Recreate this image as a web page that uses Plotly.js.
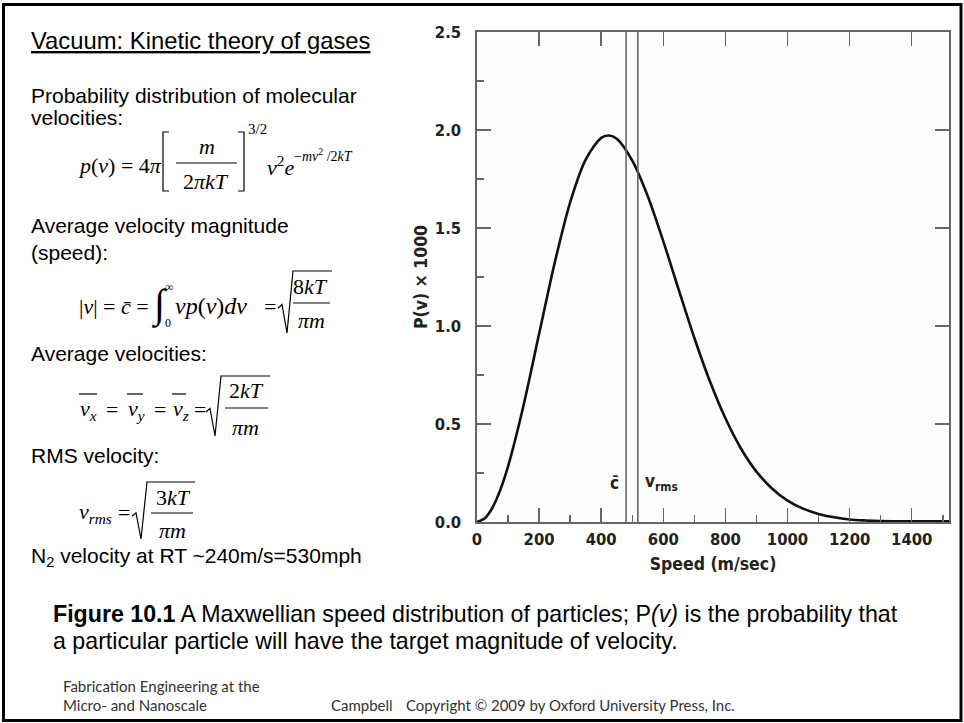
<!DOCTYPE html>
<html><head><meta charset="utf-8">
<script src="https://cdn.plot.ly/plotly-3.0.1.min.js"></script>
<style>html,body{margin:0;padding:0;background:#fff;}#chart{width:964px;height:723px;}</style>
</head><body><div id="chart"></div>
<script>
// ---- data ----
const speed = [0,25,50,75,100,150,200,250,300,350,400,425,450,500,550,600,650,700,750,800,850,900,950,1000,1050,1100,1150,1200,1250,1300,1350,1400,1450,1500,1520];
const probability = [0,0.019,0.074,0.164,0.284,0.596,0.960,1.321,1.631,1.849,1.960,1.972,1.955,1.844,1.662,1.432,1.183,0.939,0.718,0.529,0.375,0.257,0.171,0.109,0.068,0.041,0.024,0.013,0.008,0.005,0.004,0.003,0.003,0.003,0.003];
const meanSpeed = 480;
const rmsSpeed = 518;
const markerLevel = 0.2;
const xTickVals = [0,200,400,600,800,1000,1200,1400];
const xMinorTicks = [100,300,500,700,900,1100,1300,1500];
const xTopTicks = [200,400,600,800,1000,1200,1400];
const yTickVals = [0,0.5,1,1.5,2,2.5];
const yTickText = ['0.0','0.5','1.0','1.5','2.0','2.5'];
const yMinorTicks = [0.25,0.75,1.25,1.75,2.25];
const yRightTicks = [0.5,1,1.5,2];

// ---- page geometry helpers ----
const W = 964, H = 723;
const PX = x => x / W, PY = y => 1 - y / H;
const SANS = 'Liberation Sans, Arial, sans-serif';
const SERIF = 'Liberation Serif, Times New Roman, serif';
const NARROW = 'DejaVu Sans Condensed, Liberation Sans Narrow, Arial Narrow, sans-serif';
const FOOT = 'Lato, Open Sans, sans-serif';

function T(text, x, y, size, family, anchor, color) {
  return {text: text, xref: 'paper', yref: 'paper', x: PX(x), y: PY(y),
    xanchor: anchor || 'left', yanchor: 'middle', showarrow: false, borderpad: 0,
    font: {family: family, size: size, color: color || '#000'}};
}
function L(x0, y0, x1, y1, w) {
  return {type: 'line', xref: 'paper', yref: 'paper', x0: PX(x0), y0: PY(y0), x1: PX(x1), y1: PY(y1),
    line: {color: '#000', width: w || 1.2}};
}
function P(pts, w) {
  const d = pts.map((p, i) => (i ? 'L' : 'M') + PX(p[0]).toFixed(5) + ',' + PY(p[1]).toFixed(5)).join(' ');
  return {type: 'path', xref: 'paper', yref: 'paper', path: d, line: {color: '#000', width: w || 1.2}};
}
function radical(xl, yt, yb, xr) {
  const h = yb - yt;
  return P([[xl, yt + 0.6 * h], [xl + 4, yt + 0.54 * h], [xl + 9, yb], [xl + 15, yt], [xr, yt]], 1.2);
}

const annotations = [
  T('<u>Vacuum: Kinetic theory of gases</u>', 30, 40, 23.8, SANS),
  T('Probability distribution of molecular', 30, 96, 21, SANS),
  T('velocities:', 30, 118, 21, SANS),
  // p(v) formula
  T('<i>p</i>(<i>v</i>) = 4<i>π</i>', 77, 166, 22, SERIF),
  T('<i>m</i>', 207, 147, 22, SERIF, 'center'),
  T('2<i>πkT</i>', 206, 181, 22, SERIF, 'center'),
  T('3/2', 247, 129, 15, SERIF),
  T('<i>v</i><sup>2</sup><i>e</i>', 266, 166, 22, SERIF),
  T('−<i>mv</i><sup>2</sup> /2<i>kT</i>', 293, 155, 14, SERIF),
  T('Average velocity magnitude', 30, 225, 21, SANS),
  T('(speed):', 30, 252, 21, SANS),
  // mean speed formula
  T('|<i>v</i>| = <i>c̄</i> =', 78, 306, 22, SERIF),
  T('∫', 150, 304, 40, SERIF),
  T('∞', 164, 287, 12, SERIF),
  T('0', 164, 323, 12, SERIF),
  T('<i>vp</i>(<i>v</i>)<i>dv</i>', 174, 306, 24, SERIF),
  T('=', 263, 306, 22, SERIF),
  T('8<i>kT</i>', 310, 287, 22, SERIF, 'center'),
  T('<i>πm</i>', 311, 320, 22, SERIF, 'center'),
  T('Average velocities:', 30, 353, 21, SANS),
  // component averages
  T('<i>v</i><sub><i>x</i></sub>', 79, 410, 22, SERIF),
  T('=', 105, 409, 22, SERIF),
  T('<i>v</i><sub><i>y</i></sub>', 127, 410, 22, SERIF),
  T('=', 153, 409, 22, SERIF),
  T('<i>v</i><sub><i>z</i></sub>', 172, 410, 22, SERIF),
  T('=', 193, 409, 22, SERIF),
  T('2<i>kT</i>', 247, 390, 22, SERIF, 'center'),
  T('<i>πm</i>', 246, 427, 22, SERIF, 'center'),
  T('RMS velocity:', 30, 455, 21, SANS),
  // rms
  T('<i>v</i><sub><i>rms</i></sub>', 78, 513, 22, SERIF),
  T('=', 117, 512, 22, SERIF),
  T('3<i>kT</i>', 173, 497, 22, SERIF, 'center'),
  T('<i>πm</i>', 172, 530, 22, SERIF, 'center'),
  T('N<sub>2</sub> velocity at RT ~240m/s=530mph', 30, 557, 21, SANS),
  // caption & footer
  T('<b>Figure 10.1</b> A Maxwellian speed distribution of particles; P<i>(v)</i> is the probability that', 52, 614, 23.2, SANS),
  T('a particular particle will have the target magnitude of velocity.', 52, 641, 23.2, SANS),
  T('Fabrication Engineering at the', 62, 686, 15, FOOT, 'left', '#333'),
  T('Micro- and Nanoscale', 62, 705, 15, FOOT, 'left', '#333'),
  T('Campbell', 330, 705, 15, FOOT, 'left', '#333'),
  T('Copyright © 2009 by Oxford University Press, Inc.', 405, 705, 15, FOOT, 'left', '#333'),
  // chart markers
  {text: 'c̄', xref: 'x', yref: 'y', x: meanSpeed, y: markerLevel, xanchor: 'right', yanchor: 'middle',
   xshift: -5, showarrow: false, font: {family: NARROW, size: 17, color: '#222', weight: 'bold'}},
  {text: 'v<sub>rms</sub>', xref: 'x', yref: 'y', x: rmsSpeed, y: markerLevel, xanchor: 'left', yanchor: 'middle',
   xshift: 5, showarrow: false, font: {family: NARROW, size: 17, color: '#222', weight: 'bold'}}
];

const shapes = [
  {type: 'rect', xref: 'paper', yref: 'paper', x0: PX(3.5), x1: PX(961), y0: PY(4.5), y1: PY(720.5),
   line: {color: '#000', width: 3}, fillcolor: 'rgba(0,0,0,0)'},
  // brackets and fraction bar in p(v)
  P([[169, 132], [163, 132], [163, 191], [169, 191]], 1.2),
  P([[238, 132], [244, 132], [244, 191], [238, 191]], 1.2),
  L(176, 163, 237, 163),
  // mean speed radical
  radical(278, 271, 333, 332),
  L(293, 303, 330, 303),
  // component averages
  L(79, 394, 97, 394), L(127, 394, 143, 394), L(172, 394, 186, 394),
  radical(206, 376, 436, 270),
  L(225, 408, 268, 408),
  // rms
  radical(132, 482, 539, 195),
  L(151, 513, 193, 513)
];

const traces = [
  {x: speed, y: probability, type: 'scatter', mode: 'lines',
   line: {color: '#111', width: 2.6, shape: 'spline', smoothing: 0.8}, hoverinfo: 'skip', showlegend: false},
  {x: [meanSpeed, meanSpeed], y: [0, 2.5], type: 'scatter', mode: 'lines',
   line: {color: '#666', width: 1.6}, hoverinfo: 'skip', showlegend: false},
  {x: [rmsSpeed, rmsSpeed], y: [0, 2.5], type: 'scatter', mode: 'lines',
   line: {color: '#666', width: 1.6}, hoverinfo: 'skip', showlegend: false},
  {x: [0], y: [0], xaxis: 'x2', yaxis: 'y2', type: 'scatter', mode: 'markers',
   marker: {opacity: 0}, hoverinfo: 'skip', showlegend: false}
];

const tickFont = {family: NARROW, size: 16.5, color: '#222', weight: 'bold'};
const axisCol = '#666';
const layout = {
  width: W, height: H, margin: {l: 0, r: 0, t: 0, b: 0},
  paper_bgcolor: '#ffffff', plot_bgcolor: '#fdfdfb', showlegend: false,
  xaxis: {domain: [477 / W, 949 / W], range: [0, 1520], tickmode: 'array', tickvals: xTickVals,
    ticks: 'inside', ticklen: 14, tickwidth: 1.5, tickcolor: axisCol,
    showline: true, linecolor: axisCol, linewidth: 1.6, mirror: true,
    showgrid: false, zeroline: false, tickfont: tickFont, ticklabelstandoff: 2, automargin: false,
    minor: {tickmode: 'array', tickvals: xMinorTicks, ticks: 'inside', ticklen: 7, tickwidth: 1.5, tickcolor: axisCol, showgrid: false},
    title: {text: 'Speed (m/sec)', font: {family: NARROW, size: 17.5, color: '#222', weight: 'bold'}, standoff: 9}},
  yaxis: {domain: [1 - 522 / H, 1 - 32 / H], range: [0, 2.5], tickmode: 'array', tickvals: yTickVals, ticktext: yTickText,
    ticks: 'inside', ticklen: 14, tickwidth: 1.5, tickcolor: axisCol,
    showline: true, linecolor: axisCol, linewidth: 1.6, mirror: true,
    showgrid: false, zeroline: false, tickfont: tickFont, ticklabelstandoff: 11, automargin: false,
    minor: {tickmode: 'array', tickvals: yMinorTicks, ticks: 'inside', ticklen: 7, tickwidth: 1.5, tickcolor: axisCol, showgrid: false},
    title: {text: 'P(v) × 1000', font: {family: NARROW, size: 17.5, color: '#222', weight: 'bold'}, standoff: 2}},
  xaxis2: {overlaying: 'x', side: 'top', anchor: 'y2', range: [0, 1520], tickmode: 'array', tickvals: xTopTicks,
    ticks: 'inside', ticklen: 14, tickwidth: 1.5, tickcolor: axisCol, showticklabels: false,
    showline: false, showgrid: false, zeroline: false},
  yaxis2: {overlaying: 'y', side: 'right', anchor: 'x2', range: [0, 2.5], tickmode: 'array', tickvals: yRightTicks,
    ticks: 'inside', ticklen: 14, tickwidth: 1.5, tickcolor: axisCol, showticklabels: false,
    showline: false, showgrid: false, zeroline: false},
  annotations: annotations,
  shapes: shapes
};

Plotly.newPlot('chart', traces, layout, {staticPlot: true, displayModeBar: false});
</script>
</body></html>
